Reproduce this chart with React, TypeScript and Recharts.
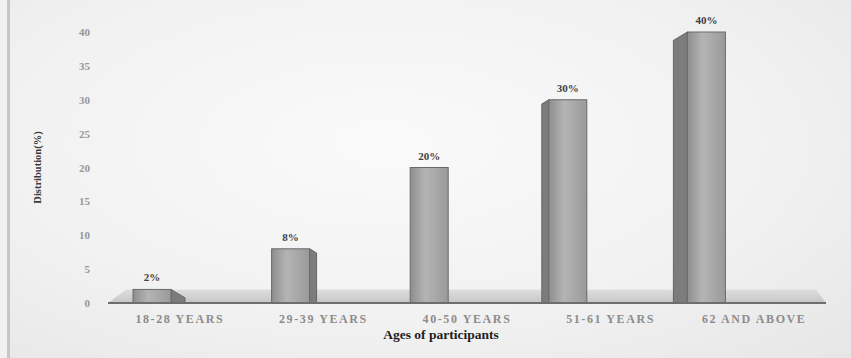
import React from 'react';
import { BarChart, Bar, XAxis, YAxis, ReferenceArea, LabelList, Label } from 'recharts';

const CATEGORIES = ['18-28 YEARS', '29-39 YEARS', '40-50 YEARS', '51-61 YEARS', '62 AND ABOVE'];
const SHARES = [2, 8, 20, 30, 40];
const Y_TICKS = [0, 5, 10, 15, 20, 25, 30, 35, 40];

const data = CATEGORIES.map((age, i) => ({ age, share: SHARES[i] }));

const FONT = '"Liberation Serif", "DejaVu Serif", serif';

// columns sit at the back of the floor, so the projection pulls them left
const backShift = (i: number) => 28 + 5 * i;
// visible side face: right side on the left columns, left side on the right ones
const sideWidth = (i: number) => (2 - i) * 7;

const Column3D = (props: any) => {
  const { x, y, width, height, index } = props;
  if (height <= 0) return null;
  const fx = x - backShift(index);
  const bottom = y + height;
  const side = sideWidth(index);
  const drop = Math.abs(side) * 0.6;
  const gid = `col-front-${index}`;
  let sidePts = '';
  if (side > 0) {
    sidePts = `${fx + width},${y} ${fx + width + side},${y + drop} ${fx + width + side},${bottom} ${fx + width},${bottom}`;
  } else if (side < 0) {
    sidePts = `${fx},${y} ${fx + side},${y + drop} ${fx + side},${bottom} ${fx},${bottom}`;
  }
  return (
    <g>
      <defs>
        <linearGradient id={gid} x1="0" y1="0" x2="1" y2="0">
          <stop offset="0%" stopColor="#8e8e8e" />
          <stop offset="40%" stopColor="#b4b4b4" />
          <stop offset="100%" stopColor="#9a9a9a" />
        </linearGradient>
      </defs>
      {sidePts && <polygon points={sidePts} fill="#7c7c7c" stroke="#666" strokeWidth={1} />}
      <rect x={fx} y={y} width={width} height={height} fill={`url(#${gid})`} stroke="#6a6a6a" strokeWidth={1} />
    </g>
  );
};

const Floor = (props: any) => {
  const { x, y, width, height } = props;
  const pts = `${x},${y + height} ${x + width},${y + height} ${x + width - 10},${y} ${x + 18},${y}`;
  return (
    <g>
      <defs>
        <linearGradient id="floor-fill" x1="0" y1="0" x2="0" y2="1">
          <stop offset="0%" stopColor="#dedede" />
          <stop offset="100%" stopColor="#c6c6c6" />
        </linearGradient>
      </defs>
      <polygon points={pts} fill="url(#floor-fill)" />
    </g>
  );
};

const ShareLabel = (props: any) => {
  const { x, y, width, value, index } = props;
  const cx = x - backShift(index) + width / 2;
  return (
    <text x={cx} y={y - 8} textAnchor="middle" fontFamily={FONT} fontSize={11} fontWeight="bold" fill="#3e3e3e">
      {`${value}%`}
    </text>
  );
};

const YTick = (props: any) => {
  const { x, y, payload } = props;
  return (
    <text x={x} y={y} dy={4} textAnchor="end" fontFamily={FONT} fontSize={11} fontWeight="bold" fill="#979797">
      {payload.value}
    </text>
  );
};

const App: React.FC = () => {
  return (
    <div
      style={{
        position: 'absolute',
        left: 0,
        top: 0,
        width: 851,
        height: 358,
        background:
          'linear-gradient(to right, #f1f1f1 0 7px, #c6c6c6 7px 10px, transparent 10px), radial-gradient(ellipse at 45% 40%, #fafafa 0%, #f1f1f1 60%, #e6e6e6 100%)',
      }}
    >
      <BarChart width={851} height={358} data={data} margin={{ top: 32, right: 25, bottom: 15, left: 0 }} barSize={38}>
        <ReferenceArea y1={0} y2={2} shape={<Floor />} />
        <XAxis
          dataKey="age"
          height={40}
          axisLine={{ stroke: '#6e6e6e', strokeWidth: 2 }}
          tickLine={false}
          tickMargin={5}
          tick={{ fontFamily: FONT, fontSize: 12, fontWeight: 'bold', fill: '#8c8c8c', letterSpacing: 1.6 }}
          interval={0}
        >
          <Label
            value="Ages of participants"
            position="insideBottom"
            offset={4}
            dx={-26}
            style={{ fontFamily: FONT, fontSize: 13.5, fontWeight: 'bold', fill: '#1e1e1e' }}
          />
        </XAxis>
        <YAxis
          width={108}
          domain={[0, 40]}
          ticks={Y_TICKS}
          axisLine={false}
          tickLine={false}
          tickMargin={12}
          tick={<YTick />}
        >
          <Label
            value="Distribution(%)"
            position="center"
            angle={-90}
            dx={-17}
            style={{ fontFamily: FONT, fontSize: 10.5, fontWeight: 'bold', fill: '#3a3a3a' }}
          />
        </YAxis>
        <Bar dataKey="share" shape={<Column3D />} isAnimationActive={false}>
          <LabelList dataKey="share" content={<ShareLabel />} />
        </Bar>
      </BarChart>
    </div>
  );
};

export default App;
